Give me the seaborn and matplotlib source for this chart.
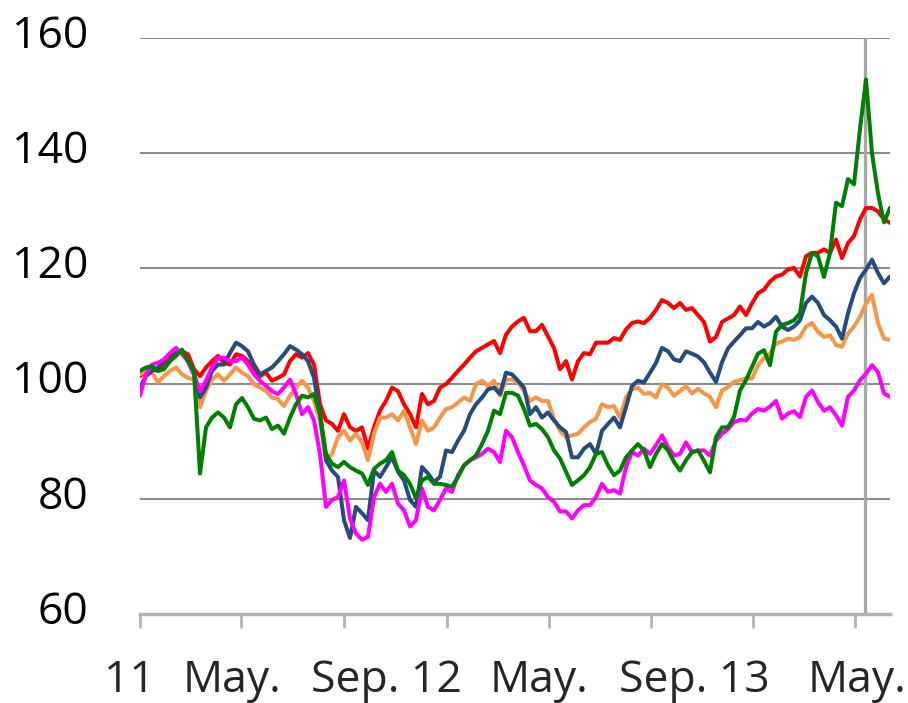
import matplotlib
matplotlib.use("Agg")
import matplotlib.pyplot as plt
from matplotlib.transforms import ScaledTranslation
import numpy as np
import pandas as pd
import seaborn as sns

# weekly index values (base 100)
red = [101.3, 102.2, 102.5, 102.2, 103.6, 104.2, 105.3, 105.6, 105.1, 102.5, 101.3, 102.8, 103.9, 104.8, 103.6, 103.3,
       105.1, 104.8, 103.9, 102.2, 101.3, 101.9, 100.5, 101.0, 101.6, 103.9, 105.1, 104.5, 105.3, 103.3, 96.4, 93.6,
       93.0, 91.8, 94.7, 92.4, 91.8, 92.4, 88.7, 92.4, 95.3, 97.0, 99.3, 98.7, 96.4, 94.7, 92.4, 98.2,
       96.4, 97.0, 99.3, 99.9, 101.0, 102.2, 103.3, 104.5, 105.6, 106.2, 106.8, 107.4, 105.3, 108.5,
       109.9, 110.8, 111.4, 109.1, 109.1, 110.2, 108.2, 106.2, 102.5, 103.9, 100.7, 103.9, 105.3, 105.1, 107.1, 107.1,
       107.1, 107.9, 107.6, 109.4, 110.5, 110.8, 110.5, 111.4, 112.8, 114.5, 114.0, 113.1, 114.0, 112.8,
       113.1, 111.9, 110.7, 107.3, 108.1, 110.7, 111.3, 111.9, 113.4, 111.9, 113.9, 115.7, 116.3, 117.7, 118.6, 118.9,
       119.8, 120.1, 118.6, 122.1, 122.7, 122.7, 123.3, 122.7, 125.0, 121.8, 124.4, 125.6, 128.5, 130.5, 130.5, 129.9,
       128.5, 127.9]
blue = [99.3, 101.3, 102.2, 102.8, 103.9, 105.1, 105.6, 105.3, 103.9, 101.6, 97.6, 99.3, 102.2, 103.3, 103.3, 105.3,
        107.1, 106.5, 105.6, 103.3, 101.6, 102.2, 102.8, 103.9, 105.1, 106.5, 105.9, 105.1, 103.9, 101.0, 94.7, 86.7,
        84.9, 83.8, 76.3, 73.2, 78.6, 77.5, 76.3, 84.9, 83.8, 85.5, 87.2, 84.7, 83.2, 79.8, 78.6, 85.5,
        84.4, 82.9, 83.8, 88.4, 88.1, 90.1, 91.8, 94.7, 96.4, 97.6, 99.0, 99.3, 98.2, 101.9,
        101.6, 100.5, 99.3, 94.7, 95.9, 94.1, 95.0, 93.6, 92.4, 91.6, 87.2, 87.2, 88.7, 89.5, 87.8, 91.8,
        93.0, 94.1, 92.4, 95.9, 99.6, 100.5, 100.2, 101.9, 103.6, 106.2, 105.6, 104.2, 103.9, 105.6,
        105.2, 104.7, 103.7, 101.9, 100.3, 103.7, 106.1, 107.3, 108.4, 109.6, 109.6, 110.7, 109.9, 110.5, 111.6, 109.9,
        109.3, 109.9, 111.0, 114.0, 115.1, 114.0, 111.9, 111.0, 109.9, 107.8, 112.2, 115.7, 118.3, 119.8, 121.5, 119.2,
        117.4, 118.6]
orange = [101.6, 102.2, 101.9, 100.2, 101.3, 102.2, 102.8, 101.6, 101.0, 100.7, 95.9, 98.7, 100.7, 101.6, 100.5, 101.6,
          102.8, 101.9, 101.3, 99.9, 99.3, 98.7, 97.6, 97.3, 96.1, 97.9, 99.3, 100.5, 99.3, 97.0, 93.6, 86.7,
          87.8, 90.7, 91.8, 90.1, 91.3, 89.8, 86.7, 91.3, 94.1, 94.1, 94.7, 93.6, 95.3, 92.4, 89.5, 93.6,
          91.8, 92.4, 94.1, 95.6, 95.9, 96.7, 97.6, 97.0, 99.9, 100.5, 99.6, 100.5, 97.9, 100.7,
          100.7, 100.2, 98.7, 97.0, 97.6, 97.0, 97.0, 93.9, 91.8, 90.7, 91.0, 91.3, 92.4, 93.3, 93.9, 96.4,
          95.9, 96.1, 94.1, 97.6, 99.0, 99.3, 98.2, 98.4, 97.6, 99.9, 99.3, 97.9, 98.7, 99.6,
          98.3, 99.1, 98.3, 97.7, 95.9, 98.8, 99.4, 100.3, 100.6, 100.9, 100.9, 103.2, 104.4, 105.2, 107.0, 107.3,
          107.8, 107.6, 108.1, 109.9, 110.5, 109.0, 108.1, 108.4, 106.7, 106.4, 108.7, 109.9, 111.6, 113.9, 115.4, 110.5,
          107.8, 107.6]
green = [102.2, 102.8, 103.0, 102.2, 102.5, 103.9, 104.8, 105.9, 103.9, 102.2, 84.4, 92.4, 94.1, 95.0, 94.1, 92.4,
         96.4, 97.5, 95.9, 93.9, 93.6, 94.1, 92.1, 92.7, 91.3, 94.1, 96.4, 97.9, 97.6, 98.2, 94.7, 87.8,
         86.1, 85.5, 86.4, 85.5, 84.9, 84.4, 82.4, 85.2, 86.1, 86.7, 88.1, 84.9, 84.1, 82.6, 80.1, 83.2,
         83.8, 82.6, 82.6, 82.4, 82.1, 83.8, 85.8, 86.7, 87.5, 89.5, 91.8, 95.3, 94.7, 98.4,
         98.4, 97.9, 95.6, 92.7, 93.0, 92.1, 90.7, 88.4, 87.0, 84.7, 82.4, 83.2, 84.1, 85.5, 87.8, 88.1,
         85.8, 84.1, 84.9, 87.2, 88.4, 89.5, 88.4, 85.5, 87.8, 89.5, 88.4, 86.4, 84.9, 86.7,
         88.1, 88.4, 86.6, 84.6, 90.7, 92.4, 92.4, 94.2, 98.8, 100.6, 102.9, 105.2, 105.8, 103.2, 109.0, 110.2,
         110.5, 111.0, 112.2, 119.2, 122.7, 122.1, 118.5, 122.7, 131.4, 130.8, 135.5, 134.6, 144.2, 152.8, 140.0, 133.0,
         128.0, 130.5]
magenta = [97.9, 101.6, 103.3, 103.6, 104.2, 105.3, 106.2, 105.1, 103.9, 101.6, 98.7, 100.5, 102.8, 104.5, 104.5, 103.9,
           103.9, 104.5, 103.3, 101.6, 100.5, 99.6, 98.7, 98.2, 99.3, 100.7, 98.2, 94.7, 95.9, 93.6, 87.8, 78.6,
           79.8, 80.3, 83.2, 76.6, 74.0, 72.9, 73.4, 80.3, 82.6, 81.2, 82.6, 79.2, 78.0, 75.2, 76.3, 81.8,
           78.6, 78.0, 79.8, 81.8, 81.2, 84.1, 85.8, 86.7, 87.2, 87.8, 88.7, 88.1, 86.4, 91.8,
           90.7, 88.1, 85.8, 83.2, 82.4, 81.8, 80.3, 79.5, 77.8, 77.8, 76.6, 78.0, 78.9, 78.9, 80.3, 82.6,
           81.2, 81.5, 80.9, 85.5, 88.1, 87.5, 88.7, 87.8, 89.3, 91.0, 89.0, 87.5, 87.8, 89.8,
           88.1, 88.4, 88.4, 87.5, 90.1, 91.3, 92.1, 93.3, 93.7, 93.6, 94.8, 95.6, 95.3, 96.0, 97.0, 93.9,
           94.8, 95.2, 94.2, 97.7, 98.8, 96.8, 95.3, 95.9, 94.5, 92.7, 97.7, 98.8, 100.6, 101.7, 103.2, 102.0,
           98.3, 97.7]

# x axis: tick marks (in weeks) and the date labels under them
tick_weeks = [0, 16.83, 34.0, 51.17, 68.17, 85.17, 102.17, 119.17]
label_weeks = [-1.83, 15.33, 41.0, 66.5, 92.33, 119.5]
label_texts = ['11', 'May.', 'Sep. 12', 'May.', 'Sep. 13', 'May.']
marker_week = 120.8
y_ticks = [60, 80, 100, 120, 140, 160]

palette = {'red': '#ff0000', 'orange': '#f79646', 'blue': '#254b7f',
           'magenta': '#ff00ff', 'green': '#008000'}
order = ['red', 'orange', 'blue', 'magenta', 'green']

df = pd.DataFrame({'red': red, 'blue': blue, 'orange': orange, 'green': green, 'magenta': magenta})
df['week'] = np.arange(len(df))
long = df.melt(id_vars='week', var_name='series', value_name='value')

sns.set_style('white')
plt.rcParams['font.family'] = ['Open Sans', 'DejaVu Sans']

fig = plt.figure(figsize=(9.08, 7.03), dpi=100)
ax = fig.add_axes([140 / 908, 89 / 703, 750 / 908, 576 / 703])

ax.axvline(marker_week, color='#a8a8a8', lw=2.4, zorder=1)
sns.lineplot(data=long, x='week', y='value', hue='series', hue_order=order, palette=palette,
             linewidth=2.9, legend=False, ax=ax, zorder=3)

ax.set_xlim(0, 125)
ax.set_ylim(60, 160)
ax.set_xlabel('')
ax.set_ylabel('')

ax.set_yticks(y_ticks)
ax.grid(axis='y', color='#8c8c8c', lw=1.5, zorder=0)
ax.grid(axis='x', visible=False)
ax.tick_params(axis='y', length=0, pad=37, labelsize=32, labelcolor='black')
for lab in ax.get_yticklabels():
    lab.set_transform(lab.get_transform() + ScaledTranslation(0, 7 / 100, fig.dpi_scale_trans))

ax.set_xticks([])
ax.set_xticks(tick_weeks, minor=True)
ax.tick_params(axis='x', which='minor', length=10, width=2, color='#b4b4b4', direction='out', bottom=True)
for w, t in zip(label_weeks, label_texts):
    ax.text(w, -0.1356, t, transform=ax.get_xaxis_transform(), ha='center', va='baseline',
            fontsize=32, clip_on=False)

for s in ['top', 'right', 'left']:
    ax.spines[s].set_visible(False)
ax.spines['bottom'].set_color('#b4b4b4')
ax.spines['bottom'].set_linewidth(2.5)
ax.spines['bottom'].set_zorder(4)

fig.savefig('out.png', dpi=100)
